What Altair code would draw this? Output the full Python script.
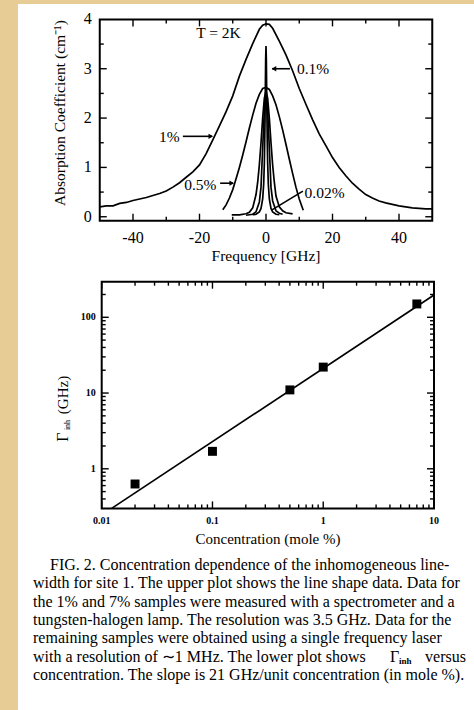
import altair as alt
import pandas as pd

FONT = "Liberation Serif"

# ---------------- top plot: line shape data ----------------
freq_1pct = [-50, -48, -46, -44, -42, -40, -38, -36, -34, -32, -30, -28, -26, -24, -22, -20, -18, -16,
             -14, -12, -10, -8, -6, -4, -2, -1, 0, 1, 2, 4, 6, 8, 10, 12, 14, 16, 18, 20, 22, 24, 26,
             28, 30, 32, 34, 36, 38, 40, 42, 44, 46, 48, 50]
abs_1pct = [0.20, 0.22, 0.22, 0.27, 0.29, 0.33, 0.36, 0.39, 0.43, 0.47, 0.52, 0.60, 0.69, 0.80, 0.91,
            1.05, 1.28, 1.56, 1.84, 2.13, 2.45, 2.85, 3.19, 3.51, 3.80, 3.88, 3.91, 3.90, 3.82, 3.56,
            3.28, 2.96, 2.60, 2.28, 1.97, 1.68, 1.44, 1.20, 1.00, 0.83, 0.68, 0.56, 0.45, 0.38, 0.32,
            0.28, 0.25, 0.22, 0.20, 0.18, 0.17, 0.16, 0.16]

freq_05pct = [-13, -12, -11, -10, -9, -8, -7, -6, -5, -4, -3, -2, -1, 0, 1, 2, 3, 4, 5, 6, 7, 8, 9, 10, 11.2]
abs_05pct = [0.14, 0.24, 0.38, 0.55, 0.77, 1.00, 1.25, 1.52, 1.80, 2.06, 2.30, 2.48, 2.60, 2.62, 2.58,
             2.45, 2.27, 2.03, 1.76, 1.47, 1.17, 0.88, 0.60, 0.36, 0.13]

freq_01pct = [-4, -3, -2, -1.5, -1, -0.7, -0.5, -0.4, -0.3, -0.2, -0.1, 0, 0.1, 0.2, 0.3, 0.4, 0.5, 0.7,
              1, 1.5, 2, 3, 4]
abs_01pct = [0.04, 0.05, 0.10, 0.17, 0.36, 0.66, 1.09, 1.47, 1.94, 2.57, 3.19, 3.46, 3.19, 2.57, 1.94,
             1.47, 1.09, 0.66, 0.36, 0.17, 0.10, 0.05, 0.04]

freq_01pct_base = [-6, -4, -3, -2, -1.5, -1.2, -0.8, -0.4, 0, 0.4, 0.8, 1.2, 1.5, 2, 3, 4, 5]
abs_01pct_base = [0.03, 0.05, 0.10, 0.30, 0.60, 1.08, 1.70, 2.30, 2.50, 2.30, 1.70, 1.08, 0.60, 0.32,
                  0.12, 0.07, 0.05]

freq_002pct = [-10.3, -8, -6, -5, -4, -3, -2.5, -2, -1.5, -1, -0.5, 0, 0.5, 1, 1.5, 2, 2.5, 3, 4, 5, 6, 8]
abs_002pct = [0.04, 0.04, 0.06, 0.09, 0.18, 0.45, 0.70, 1.05, 1.50, 2.00, 2.40, 2.55, 2.40, 2.00, 1.50,
              1.05, 0.70, 0.42, 0.20, 0.12, 0.08, 0.06]

top_x_ticks_major = [-40, -20, 0, 20, 40]
top_x_tick_labels = ["-40", "-20", "0", "20", "40"]
top_x_ticks_minor = [-30, -10, 10, 30]
top_y_ticks_major = [0, 1, 2, 3]
top_y_tick_labels = ["0", "1", "2", "3", "4"]
top_y_label_values = [0, 1, 2, 3, 4]
top_y_ticks_minor = [0.5, 1.5, 2.5, 3.5]

# annotation labels (text, x, y) and arrows
ann_text = ["T = 2K", "0.1%", "1%", "0.5%", "0.02%"]
ann_x = [-21.0, 9.3, -32.2, -24.6, 11.6]
ann_y = [3.72, 3.0, 1.61, 0.65, 0.48]
arrow_x1 = [7.2, -25.0, -13.8, 11.1]
arrow_y1 = [3.0, 1.63, 0.68, 0.52]
arrow_x2 = [1.8, -16.2, -9.9, 1.8]
arrow_y2 = [3.0, 1.63, 0.68, 0.14]
head_x = [2.4, -16.6, -10.3]
head_y = [3.0, 1.63, 0.68]
head_shape = ["triangle-left", "triangle-right", "triangle-right"]

# ---------------- bottom plot: linewidth vs concentration ----------------
conc = [0.02, 0.1, 0.5, 1.0, 7.0]
gamma_inh = [0.63, 1.7, 11.0, 22.0, 150.0]
fit_conc = [0.0123, 10.0]
fit_gamma = [0.3, 197.0]

bot_x_ticks_major = [0.01, 0.1, 1, 10]
bot_x_tick_labels = ["0.01", "0.1", "1", "10"]
bot_x_ticks_minor = [m * d for d in (0.01, 0.1, 1) for m in range(2, 10)]
bot_y_ticks_major = [1, 10, 100]
bot_y_tick_labels = ["1", "10", "100"]
bot_y_ticks_minor = [0.4, 0.5, 0.6, 0.7, 0.8, 0.9] + [m * d for d in (1, 10) for m in range(2, 10)] + [200]

caption_lines = [
    "FIG. 2. Concentration dependence of the inhomogeneous line-",
    "width for site 1. The upper plot shows the line shape data. Data for",
    "the 1% and 7% samples were measured with a spectrometer and a",
    "tungsten-halogen lamp. The resolution was 3.5 GHz. Data for the",
    "remaining samples were obtained using a single frequency laser",
    "with a resolution of \u223c1 MHz. The lower plot shows",
    "concentration. The slope is 21 GHz/unit concentration (in mole %).",
]

# ---------------- scales ----------------
TOP_X = alt.Scale(domain=[-50, 50], range=[81.75, 414.25], nice=False, zero=False)
TOP_Y = alt.Scale(domain=[-0.08, 4], range=[216.7, 15.4], nice=False, zero=False)
BOT_X = alt.Scale(type="log", domain=[0.01, 10], range=[83.7, 416], nice=False)
BOT_Y = alt.Scale(type="log", domain=[0.3, 295], range=[504.4, 277.7], nice=False)


def X(f, s):
    return alt.X(f, type="quantitative", scale=s, axis=None)


def Y(f, s):
    return alt.Y(f, type="quantitative", scale=s, axis=None)


def frame(xs, ys, x0, x1, y0, y1, sw):
    df = pd.DataFrame({"x0": [x0], "x1": [x1], "y0": [y0], "y1": [y1]})
    return alt.Chart(df).mark_rect(fillOpacity=0, stroke="black", strokeWidth=sw).encode(
        x=X("x0", xs), x2="x1", y=Y("y0", ys), y2="y1")


def ticks(xs, ys, xvals, yvals, xmin, xmax, ymin, ymax, length, sw=1.4):
    layers = []
    if xvals:
        for edge, off in ((ymin, -length), (ymax, length)):
            df = pd.DataFrame({"v": xvals, "e": [edge] * len(xvals)})
            layers.append(alt.Chart(df).mark_rule(color="black", strokeWidth=sw, y2Offset=off).encode(
                x=X("v", xs), y=Y("e", ys), y2="e"))
    if yvals:
        for edge, off in ((xmin, length), (xmax, -length)):
            df = pd.DataFrame({"v": yvals, "e": [edge] * len(yvals)})
            layers.append(alt.Chart(df).mark_rule(color="black", strokeWidth=sw, x2Offset=off).encode(
                y=Y("v", ys), x=X("e", xs), x2="e"))
    return layers


# ---------------- top plot layers ----------------
curves = pd.concat([
    pd.DataFrame({"s": name, "f": fx, "a": ay})
    for name, fx, ay in (
        ("1%", freq_1pct, abs_1pct),
        ("0.5%", freq_05pct, abs_05pct),
        ("0.1%", freq_01pct, abs_01pct),
        ("0.1% base", freq_01pct_base, abs_01pct_base),
        ("0.02%", freq_002pct, abs_002pct),
    )
])
curve_layer = alt.Chart(curves).mark_line(color="black", strokeWidth=1.7).encode(
    x=X("f", TOP_X), y=Y("a", TOP_Y), detail="s:N")

ann_df = pd.DataFrame({"t": ann_text, "x": ann_x, "y": ann_y})
ann_layer = alt.Chart(ann_df).mark_text(font=FONT, fontSize=15.5, align="left", baseline="middle",
                                        color="black").encode(
    x=X("x", TOP_X), y=Y("y", TOP_Y), text="t:N")

arrow_df = pd.DataFrame({"x1": arrow_x1, "y1": arrow_y1, "x2": arrow_x2, "y2": arrow_y2})
arrow_layer = alt.Chart(arrow_df).mark_rule(color="black", strokeWidth=1.6).encode(
    x=X("x1", TOP_X), y=Y("y1", TOP_Y), x2="x2", y2="y2")

head_df = pd.DataFrame({"x": head_x, "y": head_y, "sh": head_shape})
head_layer = alt.Chart(head_df).mark_point(filled=True, color="black", size=28, opacity=1).encode(
    x=X("x", TOP_X), y=Y("y", TOP_Y),
    shape=alt.Shape("sh:N", scale=alt.Scale(domain=["triangle-left", "triangle-right"],
                                             range=["triangle-left", "triangle-right"]), legend=None))

top_xlab = pd.DataFrame({"v": top_x_ticks_major, "t": top_x_tick_labels, "e": [-0.08] * 5})
top_xlab_layer = alt.Chart(top_xlab).mark_text(font=FONT, fontSize=16, baseline="middle", dy=17,
                                               color="black").encode(
    x=X("v", TOP_X), y=Y("e", TOP_Y), text="t:N")
top_ylab = pd.DataFrame({"v": top_y_label_values, "t": top_y_tick_labels, "e": [-50] * 5})
top_ylab_layer = alt.Chart(top_ylab).mark_text(font=FONT, fontSize=16, baseline="middle", align="right",
                                               dx=-8, color="black").encode(
    x=X("e", TOP_X), y=Y("v", TOP_Y), text="t:N")

top = alt.layer(
    curve_layer, arrow_layer, head_layer, ann_layer,
    *ticks(TOP_X, TOP_Y, top_x_ticks_major, top_y_ticks_major, -50, 50, -0.08, 4, 7),
    *ticks(TOP_X, TOP_Y, top_x_ticks_minor, top_y_ticks_minor, -50, 50, -0.08, 4, 4),
    frame(TOP_X, TOP_Y, -50, 50, -0.08, 4, 2),
    top_xlab_layer, top_ylab_layer,
)

# ---------------- bottom plot layers ----------------
pts = pd.DataFrame({"c": conc, "g": gamma_inh})
pts_layer = alt.Chart(pts).mark_point(shape="square", filled=True, color="black", size=80, opacity=1).encode(
    x=X("c", BOT_X), y=Y("g", BOT_Y))
fit = pd.DataFrame({"c": fit_conc, "g": fit_gamma})
fit_layer = alt.Chart(fit).mark_line(color="black", strokeWidth=1.7).encode(
    x=X("c", BOT_X), y=Y("g", BOT_Y))

bot_xlab = pd.DataFrame({"v": bot_x_ticks_major, "t": bot_x_tick_labels, "e": [0.3] * 4})
bot_xlab_layer = alt.Chart(bot_xlab).mark_text(font=FONT, fontSize=10, fontWeight="bold", baseline="middle",
                                               dy=13, color="black").encode(
    x=X("v", BOT_X), y=Y("e", BOT_Y), text="t:N")
bot_ylab = pd.DataFrame({"v": bot_y_ticks_major, "t": bot_y_tick_labels, "e": [0.01] * 3})
bot_ylab_layer = alt.Chart(bot_ylab).mark_text(font=FONT, fontSize=10, fontWeight="bold", baseline="middle",
                                               align="right", dx=-6, color="black").encode(
    x=X("e", BOT_X), y=Y("v", BOT_Y), text="t:N")

bot = alt.layer(
    fit_layer, pts_layer,
    *ticks(BOT_X, BOT_Y, bot_x_ticks_major, bot_y_ticks_major, 0.01, 10, 0.3, 295, 7),
    *ticks(BOT_X, BOT_Y, bot_x_ticks_minor, bot_y_ticks_minor, 0.01, 10, 0.3, 295, 4),
    frame(BOT_X, BOT_Y, 0.01, 10, 0.3, 295, 2),
    bot_xlab_layer, bot_ylab_layer,
)

# ---------------- titles and caption (pixel placed text) ----------------
one = pd.DataFrame({"k": [0]})


def label(text, x, y, size, angle=0, align="center", weight="normal"):
    kw = dict(font=FONT, fontSize=size, align=align, baseline="middle", color="black", text=text,
              fontWeight=weight)
    if angle:
        kw["angle"] = angle
    return alt.Chart(one).mark_text(**kw).encode(x=alt.value(x), y=alt.value(y))


texts = [
    label("Absorption Coefficient  (cm\u207b\u00b9)", 42, 109, 15.5, angle=270),
    label("Frequency [GHz]", 248, 252, 15.5),
    label("Concentration (mole %)", 250, 535, 15),
    label("(GHz)", 45, 391, 15, angle=270),
    label("inh", 50, 421, 8, angle=270),
    label("\u0393", 45, 433, 16, angle=270),
]
for i, line in enumerate(caption_lines):
    texts.append(label(line, 32 if i == 0 else 15, 561 + 18.35 * i, 16, align="left"))
# Gamma_inh versus at end of line 6
texts.append(label("\u0393", 372, 561 + 18.35 * 5, 16, align="left"))
texts.append(label("inh", 381, 561 + 18.35 * 5 + 4, 9, align="left", weight="bold"))
texts.append(label("versus", 448, 561 + 18.35 * 5, 16, align="right"))

chart = alt.layer(top, bot, *texts).resolve_scale(x="independent", y="independent").properties(
    width=456, height=706,
    padding={"left": 18, "top": 4, "right": 0, "bottom": 0},
    autosize=alt.AutoSizeParams(type="none"),
    background="#E8CC96",
).configure_view(fill="white", strokeWidth=0)

chart.save("out.html", embed_options={"renderer": "svg", "actions": False})
